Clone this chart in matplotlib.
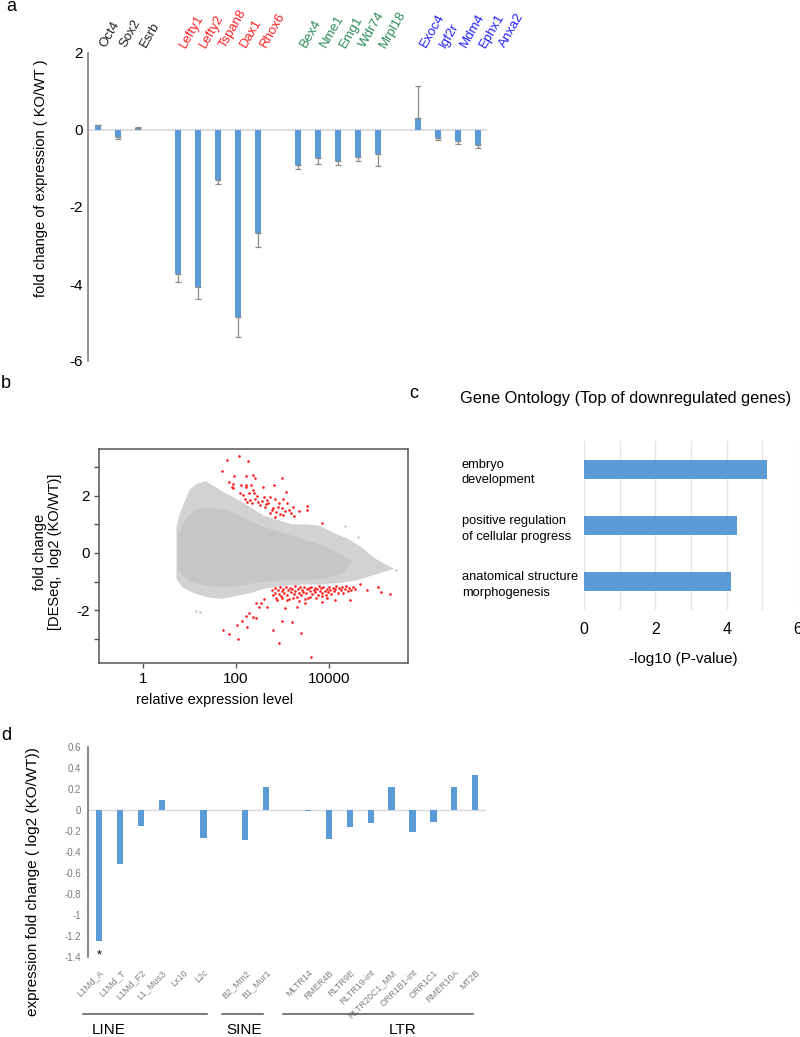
import matplotlib
matplotlib.use('Agg')
import matplotlib.pyplot as plt
import numpy as np

plt.rcParams['font.family'] = ['Liberation Sans', 'DejaVu Sans']
plt.rcParams['axes.unicode_minus'] = False

# ---------------- data: panel a ----------------
genes = ['Oct4', 'Sox2', 'Esrb',
         'Lefty1', 'Lefty2', 'Tspan8', 'Dax1', 'Rhox6',
         'Bex4', 'Nme1', 'Emg1', 'Wdr74', 'Mrpl18',
         'Exoc4', 'Igf2r', 'Mdm4', 'Ephx1', 'Anxa2']
gene_group_sizes = [3, 5, 5, 5]
gene_group_colors = ['#222222', '#ff1f1f', '#2e8b57', '#2020ff']
gene_vals = [0.12, -0.18, 0.05,
             -3.75, -4.08, -1.30, -4.87, -2.68,
             -0.90, -0.74, -0.80, -0.70, -0.62,
             0.30, -0.20, -0.28, -0.40, -0.57]
gene_errs = [0.02, 0.05, 0.03,
             0.20, 0.30, 0.10, 0.50, 0.35,
             0.12, 0.14, 0.12, 0.10, 0.32,
             0.83, 0.05, 0.08, 0.06, 0.06]

# ---------------- data: panel b ----------------
cloud_outer_lx = [0.72, 0.72, 0.78, 0.90, 1.00, 1.15, 1.35, 1.55, 1.75, 2.00, 2.30, 2.60,
                  2.90, 3.20, 3.50, 3.80, 4.10, 4.40, 4.70, 5.00, 5.40, 5.00, 4.60, 4.20,
                  3.80, 3.40, 3.00, 2.60, 2.30, 2.00, 1.70, 1.40, 1.10, 0.85]
cloud_outer_y = [-0.90, 0.90, 1.30, 1.80, 2.20, 2.40, 2.50, 2.30, 2.10, 1.90, 1.60, 1.30,
                 1.15, 1.00, 1.00, 0.95, 0.70, 0.50, 0.20, -0.20, -0.55, -0.75, -0.95, -1.05,
                 -1.10, -1.10, -1.15, -1.25, -1.40, -1.50, -1.60, -1.55, -1.40, -1.20]
cloud_inner_lx = [0.75, 0.75, 0.90, 1.10, 1.40, 1.80, 2.20, 2.60, 3.00, 3.40, 3.80, 4.20,
                  4.50, 4.30, 3.90, 3.40, 3.00, 2.60, 2.20, 1.80, 1.40, 1.00]
cloud_inner_y = [-0.60, 0.70, 1.10, 1.50, 1.60, 1.50, 1.20, 0.90, 0.70, 0.50, 0.30, 0.00,
                 -0.30, -0.70, -0.90, -0.95, -0.95, -1.00, -1.10, -1.20, -1.15, -1.00]
gray_out_lx = [1.14, 1.23, 5.45, 5.06, 4.62, 4.34]
gray_out_y = [-2.02, -2.04, -0.60, -0.48, 0.56, 0.94]

red_up_lx = [2.06, 1.81, 2.25, 1.71, 1.95, 2.21, 2.37, 2.41, 2.99, 1.86,
             1.93, 1.91, 1.94, 2.11, 2.21, 2.32, 2.21, 2.37, 2.58, 2.82,
             3.08, 2.08, 2.16, 2.27, 2.39, 2.46, 2.20, 2.30, 2.41, 2.48,
             2.55, 2.66, 2.73, 2.84, 2.92, 3.01, 2.24, 2.34, 2.52, 2.62,
             2.69, 2.80, 2.87, 2.91, 2.95, 3.10, 3.14, 3.22, 3.25, 3.02,
             2.84, 2.73, 3.36, 3.52, 3.52, 3.86, 2.60, 2.64, 2.77, 2.98,
             3.05, 3.18]
red_up_y = [3.36, 3.24, 3.20, 2.87, 2.69, 2.68, 2.73, 2.62, 2.61, 2.47,
            2.39, 2.31, 2.25, 2.35, 2.35, 2.35, 2.28, 2.20, 2.28, 2.35,
            2.13, 2.08, 2.02, 2.08, 2.08, 1.99, 1.89, 1.85, 1.87, 1.79,
            1.81, 1.85, 1.96, 1.87, 1.73, 1.87, 1.78, 1.73, 1.67, 1.61,
            1.73, 1.56, 1.44, 1.61, 1.36, 1.73, 1.50, 1.61, 1.29, 1.32,
            1.24, 1.38, 1.47, 1.65, 1.50, 1.06, 1.95, 1.70, 1.50, 1.55,
            1.45, 1.40]
red_dn_lx = [1.73, 1.86, 2.05, 2.03, 2.14, 2.21, 2.29, 2.37, 2.43, 2.23,
             2.80, 2.99, 2.93, 3.40, 3.61, 2.44, 2.50, 2.54, 2.60, 2.66,
             3.05, 3.32, 3.48, 3.86, 4.13, 4.45, 4.67, 4.81, 5.06, 5.13,
             5.31, 3.21]
red_dn_y = [-2.68, -2.83, -2.98, -2.49, -2.36, -2.20, -2.08, -2.24, -2.26, -2.57,
            -2.68, -2.38, -3.15, -2.80, -3.61, -1.75, -1.87, -1.73, -1.61, -1.87,
            -1.93, -1.87, -1.75, -1.72, -1.64, -1.64, -1.08, -1.29, -1.17, -1.35,
            -1.43, -2.39]
red_band_lx = [2.78, 2.80, 2.83, 2.85, 2.87, 2.90, 2.92, 2.95, 2.97, 3.00,
               3.02, 3.04, 3.07, 3.09, 3.12, 3.14, 3.16, 3.19, 3.21, 3.24,
               3.26, 3.28, 3.31, 3.33, 3.35, 3.38, 3.40, 3.43, 3.45, 3.47,
               3.50, 3.52, 3.55, 3.57, 3.59, 3.62, 3.64, 3.67, 3.69, 3.71,
               3.74, 3.76, 3.79, 3.81, 3.83, 3.86, 3.88, 3.91, 3.93, 3.95,
               3.98, 4.00, 4.03, 4.05, 4.08, 4.10, 4.13, 4.16, 4.19, 4.22,
               4.25, 4.28, 4.31, 4.34, 4.37, 4.40, 4.44, 4.48, 4.52, 4.56,
               2.88, 2.98, 3.10, 3.22, 3.36, 3.48, 3.60, 3.72, 3.84, 3.96]
red_band_y = [-1.30, -1.45, -1.22, -1.38, -1.55, -1.28, -1.42, -1.20, -1.50, -1.33,
              -1.25, -1.40, -1.18, -1.47, -1.30, -1.60, -1.22, -1.36, -1.27, -1.44,
              -1.15, -1.32, -1.52, -1.24, -1.38, -1.20, -1.46, -1.29, -1.35, -1.19,
              -1.41, -1.26, -1.55, -1.22, -1.34, -1.17, -1.43, -1.28, -1.21, -1.37,
              -1.25, -1.48, -1.16, -1.31, -1.23, -1.40, -1.19, -1.33, -1.45, -1.24,
              -1.36, -1.18, -1.29, -1.42, -1.21, -1.34, -1.26, -1.15, -1.38, -1.22,
              -1.30, -1.19, -1.41, -1.25, -1.14, -1.33, -1.22, -1.28, -1.17, -1.24,
              -1.62, -1.58, -1.65, -1.57, -1.66, -1.60, -1.52, -1.58, -1.50, -1.55]

# ---------------- data: panel c ----------------
go_terms = ['embryo\ndevelopment', 'positive regulation\nof cellular progress',
            'anatomical structure\nmorphogenesis']
go_vals = [5.13, 4.28, 4.12]

# ---------------- data: panel d ----------------
te_names = ['L1Md_A', 'L1Md_T', 'L1Md_F2', 'L1_Mus3', 'Lx10', 'L2c',
            'B2_Mm2', 'B1_Mur1',
            'MLTR14', 'RMER4B', 'RLTR9E', 'RLTR19-int', 'RLTR20C1_MM',
            'ORR1B1-int', 'ORR1C1', 'RMER10A', 'MT2B']
te_group_names = ['LINE', 'SINE', 'LTR']
te_group_sizes = [6, 2, 9]
te_vals = [-1.25, -0.51, -0.15, 0.10, 0.0, -0.27,
           -0.29, 0.22,
           -0.01, -0.28, -0.16, -0.12, 0.22, -0.21, -0.11, 0.22, 0.33]

BLUE = '#5b9bd5'
W, H = 800, 1037
fig = plt.figure(figsize=(W / 100, H / 100), dpi=100)


def ax_px(left, top, right, bottom):
    return fig.add_axes([left / W, 1 - bottom / H, (right - left) / W, (bottom - top) / H])


def slot_positions(sizes):
    pos, s = [], 0
    for n in sizes:
        for _ in range(n):
            pos.append(s)
            s += 1
        s += 1
    return pos


# ================= panel a =================
axA = ax_px(88, 53, 487, 361)
posA = slot_positions(gene_group_sizes)
vals = np.array(gene_vals)
errs = np.array(gene_errs)
lower = np.where(vals < 0, errs, 0)
upper = np.where(vals >= 0, errs, 0)
axA.axhline(0, color='#d9d9d9', lw=1.2, zorder=1)
axA.bar(posA, vals, width=0.33, color=BLUE, zorder=3)
axA.errorbar(posA, vals, yerr=[lower, upper], fmt='none', ecolor='#8c8c8c',
             elinewidth=0.9, capsize=2.5, capthick=0.9, zorder=4)
axA.set_xlim(-0.5, 19.45)
axA.set_ylim(-6, 2)
axA.set_xticks([])
axA.set_yticks([-6, -4, -2, 0, 2])
axA.tick_params(axis='y', length=0, pad=4, labelsize=11)
for s in ['top', 'right', 'bottom']:
    axA.spines[s].set_visible(False)
axA.spines['left'].set_color('#808080')
axA.spines['left'].set_linewidth(1.2)
axA.set_ylabel('fold change of expression ( KO/WT )', fontsize=10.5)
axA.yaxis.set_label_coords(-0.10, 0.594)
colors = []
for c, n in zip(gene_group_colors, gene_group_sizes):
    colors += [c] * n
for p, name, c in zip(posA, genes, colors):
    axA.text(p + 0.5, 2.08, name, rotation=60, rotation_mode='anchor', ha='left',
             va='bottom', color=c, fontsize=9.5, clip_on=False)

# ================= panel b =================
axB = ax_px(99, 449, 408, 663)
axB.set_xscale('log')
axB.fill(10 ** np.array(cloud_outer_lx), cloud_outer_y, color='#d2d2d2', lw=0, zorder=1)
axB.fill(10 ** np.array(cloud_inner_lx), cloud_inner_y, color='#c6c6c6', lw=0, zorder=2)
axB.scatter(10 ** np.array(gray_out_lx), gray_out_y, s=3, color='#c4c4c4', lw=0, zorder=2)
axB.scatter(10 ** np.array(red_up_lx), red_up_y, s=3.5, color='#ff1a1a', lw=0, zorder=3)
axB.scatter(10 ** np.array(red_band_lx), red_band_y, s=3.5, color='#ff1a1a', lw=0, zorder=3)
axB.scatter(10 ** np.array(red_dn_lx), red_dn_y, s=3.5, color='#ff1a1a', lw=0, zorder=3)
axB.set_xlim(10 ** -0.946, 10 ** 5.70)
axB.set_ylim(-3.83, 3.62)
axB.set_xticks([1, 100, 10000])
axB.set_xticklabels(['1', '100', '10000'])
axB.xaxis.set_minor_locator(matplotlib.ticker.NullLocator())
axB.set_yticks([-3, -2, -1, 0, 1, 2, 3])
axB.set_yticklabels(['', '-2', '', '0', '', '2', ''])
axB.tick_params(length=3.5, width=1, color='#555555', labelsize=11, pad=3)
for s in axB.spines.values():
    s.set_color('#555555')
    s.set_linewidth(1.1)
axB.set_ylabel('fold change\n[DESeq,  log2 (KO/WT)]', fontsize=10.5, linespacing=1.1)
axB.yaxis.set_label_coords(-0.12, 0.52)
axB.set_xlabel('relative expression level', fontsize=10.5)
axB.xaxis.set_label_coords(0.375, -0.14)

# ================= panel c =================
axC = ax_px(584, 441, 798, 610)
ypos = np.arange(len(go_terms))
axC.barh(ypos, go_vals, height=0.34, color=BLUE, zorder=3)
axC.set_xlim(0, 6)
axC.set_ylim(2.5, -0.5)
axC.set_xticks([0, 2, 4, 6])
axC.set_xticks([1, 3, 5], minor=True)
axC.grid(axis='x', which='both', color='#e4e4e4', lw=1, zorder=0)
axC.set_yticks(ypos)
axC.set_yticklabels(go_terms, ha='left', fontsize=9.3, linespacing=1.4)
axC.tick_params(axis='y', length=0, pad=88)
axC.tick_params(axis='x', which='both', length=0, labelsize=11.5, pad=9)
for s in axC.spines.values():
    s.set_visible(False)
axC.set_xlabel('-log10 (P-value)', fontsize=11)
axC.xaxis.set_label_coords(0.463, -0.25)
axC.text(0.196, 1.25, 'Gene Ontology (Top of downregulated genes)', transform=axC.transAxes,
         ha='center', va='center', fontsize=11.8)

# ================= panel d =================
axD = ax_px(88, 747, 485.6, 957)
posD = slot_positions(te_group_sizes)
axD.axhline(0, color='#d9d9d9', lw=1.0, zorder=1)
axD.bar(posD, te_vals, width=0.3, color=BLUE, zorder=3)
axD.set_xlim(-0.53, 18.5)
axD.set_ylim(-1.4, 0.6)
yt = np.round(np.arange(-1.4, 0.61, 0.2), 1) + 0.0
axD.set_yticks(yt)
axD.set_yticklabels(['%g' % (0.0 if abs(v) < 1e-9 else v) for v in yt])
axD.tick_params(axis='y', length=0, pad=5, labelsize=7, labelcolor='#7a7a7a')
axD.set_xticks(posD)
axD.set_xticklabels(te_names, rotation=45, ha='right', rotation_mode='anchor',
                    fontsize=6.5, color='#808080')
axD.tick_params(axis='x', length=0, pad=8)
for s in ['top', 'right', 'bottom']:
    axD.spines[s].set_visible(False)
axD.spines['left'].set_color('#666666')
axD.spines['left'].set_linewidth(1.1)
axD.set_ylabel('expression fold change ( log2 (KO/WT))', fontsize=11)
axD.yaxis.set_label_coords(-0.12, 0.357)
axD.text(posD[0], -1.414, '*', ha='center', va='baseline', fontsize=9)
# group brackets
line_extents = [(-0.77, 5.17), (5.89, 7.85), (8.8, 17.9)]
label_x = [0.48, 6.96, 14.55]
for name, (x0, x1), lx in zip(te_group_names, line_extents, label_x):
    axD.plot([x0, x1], [-1.943, -1.943], color='#555555', lw=1.1, clip_on=False)
    axD.text(lx, -2.03, name, ha='center', va='top', fontsize=11, clip_on=False)

# panel letters
for letter, x, y in [('a', 6, 11), ('b', 1, 388), ('c', 409, 398), ('d', 1, 740)]:
    fig.text(x / W, 1 - y / H, letter, fontsize=13, ha='left', va='baseline')

fig.savefig('out.png', dpi=100)
